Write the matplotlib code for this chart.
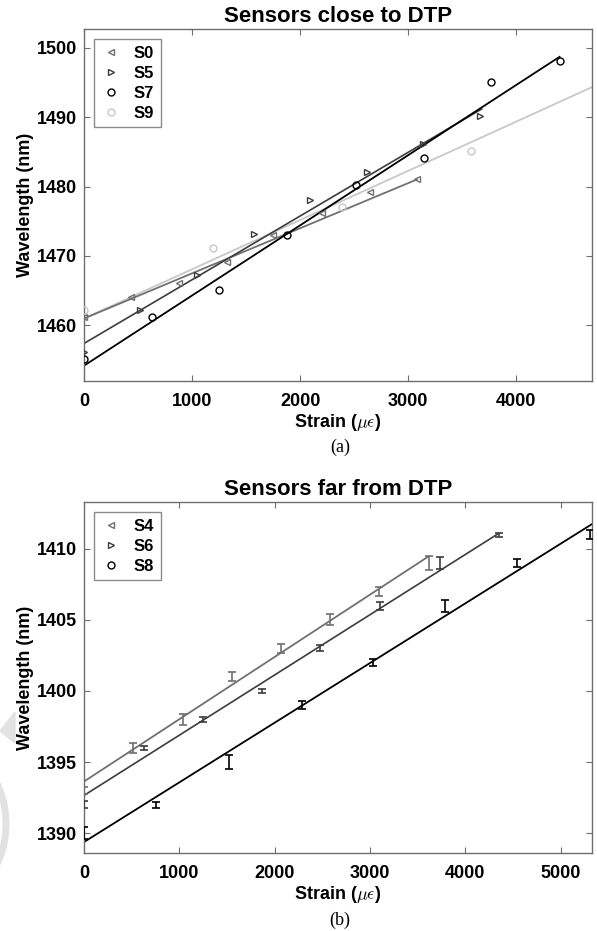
import matplotlib
matplotlib.use("Agg")
import matplotlib.pyplot as plt
from matplotlib.lines import Line2D
from matplotlib.patches import Polygon, Circle
import numpy as np

plt.rcParams['font.family'] = ['Liberation Sans', 'DejaVu Sans']
plt.rcParams['mathtext.fontset'] = 'cm'

# ---- panel (a): sensors close to DTP ----
s0_x = [0, 435, 880, 1321, 1750, 2200, 2642, 3080]
s0_y = [1461.2, 1464.1, 1466.1, 1469.1, 1473.0, 1476.2, 1479.2, 1481.1]
s5_x = [0, 518, 1043, 1574, 2093, 2617, 3136, 3660]
s5_y = [1456.2, 1462.2, 1467.2, 1473.2, 1478.1, 1482.1, 1486.2, 1490.1]
s7_x = [0, 627, 1253, 1882, 2515, 3142, 3769, 4401]
s7_y = [1455.1, 1461.2, 1465.1, 1473.05, 1480.2, 1484.1, 1495.06, 1498.1]
s9_x = [0, 1191, 2386, 3580]
s9_y = [1462.2, 1471.1, 1477.1, 1485.1]

# fitted lines: (x start, x end, intercept, slope)
fit_a = {
    'S0': (0, 3080, 1461.0, 0.00650),
    'S5': (0, 3680, 1457.4, 0.00918),
    'S7': (0, 4400, 1454.2, 0.01011),
    'S9': (0, 4700, 1461.0, 0.00709),
}

# ---- panel (b): sensors far from DTP ----
s4_x = [0, 515, 1035, 1553, 2068, 2576, 3091, 3617]
s4_y = [1393.0, 1396.0, 1398.0, 1401.0, 1403.0, 1405.0, 1407.0, 1409.0]
s4_err = [0.25, 0.35, 0.39, 0.33, 0.34, 0.39, 0.35, 0.47]
s6_x = [0, 630, 1251, 1872, 2478, 3109, 3733, 4353]
s6_y = [1392.0, 1396.0, 1398.0, 1400.0, 1403.0, 1406.0, 1409.0, 1411.0]
s6_err = [0.23, 0.16, 0.15, 0.14, 0.21, 0.29, 0.41, 0.15]
s8_x = [0, 754, 1518, 2286, 3032, 3793, 4547, 5310]
s8_y = [1390.0, 1392.0, 1395.0, 1399.0, 1402.0, 1406.0, 1409.0, 1411.0]
s8_err = [0.41, 0.2, 0.49, 0.29, 0.26, 0.41, 0.29, 0.33]

fit_b = {
    'S4': (0, 3617, 1393.63, 0.004382),
    'S6': (0, 4353, 1392.65, 0.004238),
    'S8': (0, 5330, 1389.37, 0.004198),
}

c_mid = '#707070'
c_dark = '#3c3c3c'
c_black = '#000000'
c_light = '#c8c8c8'
spine_c = '#6e6e6e'

fig = plt.figure(figsize=(5.97, 9.31), dpi=100)

# faint watermark shapes at the left edge
fig.patches.append(Polygon([[0, 0.2148], [0.025, 0.2352], [0.025, 0.2018]], closed=True,
                           transform=fig.transFigure, color='#e2e2e2', zorder=0))
fig.patches.append(Circle((-0.06, 0.115), 0.07, transform=fig.transFigure,
                          fill=False, edgecolor='#e2e2e2', linewidth=5, zorder=0))


def style_axes(ax):
    for s in ax.spines.values():
        s.set_color(spine_c)
        s.set_linewidth(1.0)
    ax.tick_params(direction='in', top=True, right=True, length=4, width=0.8,
                   color=spine_c, labelsize=13)
    ax.tick_params(axis='x', pad=9)
    ax.tick_params(axis='y', pad=5)
    for lab in ax.get_xticklabels() + ax.get_yticklabels():
        lab.set_fontweight('bold')


def fit_line(ax, f, color, lw):
    x0, x1, b, m = f
    xs = np.array([x0, x1])
    ax.plot(xs, b + m * xs, color=color, lw=lw, zorder=2)


# panel (a)
ax1 = fig.add_axes([0.1407, 0.5908, 0.8509, 0.3781])
fit_line(ax1, fit_a['S9'], c_light, 1.3)
fit_line(ax1, fit_a['S0'], c_mid, 1.3)
fit_line(ax1, fit_a['S5'], c_dark, 1.2)
fit_line(ax1, fit_a['S7'], c_black, 1.3)
mk = dict(linestyle='none', markersize=5, markerfacecolor='none', markeredgewidth=1.0, zorder=3)
ax1.plot(s0_x, s0_y, marker='<', color=c_mid, label='S0', **mk)
ax1.plot(s5_x, s5_y, marker='>', color=c_dark, label='S5', **mk)
ax1.plot(s7_x, s7_y, marker='o', color=c_black, label='S7', **mk)
ax1.plot(s9_x, s9_y, marker='o', color=c_light, label='S9', **mk)
ax1.set_xlim(0, 4700)
ax1.set_ylim(1452, 1502.7)
ax1.set_xticks([0, 1000, 2000, 3000, 4000])
ax1.set_yticks([1460, 1470, 1480, 1490, 1500])
style_axes(ax1)
ax1.set_title('Sensors close to DTP', fontsize=16, fontweight='bold', pad=5)
ax1.set_xlabel(r'Strain ($\mu\epsilon$)', fontsize=13, fontweight='bold', labelpad=1)
ax1.set_ylabel('Wavelength (nm)', fontsize=13, fontweight='bold', labelpad=2)
leg = ax1.legend(loc='upper left', prop={'weight': 'bold', 'size': 12},
                 fancybox=False, edgecolor=spine_c, handlelength=1.2, handletextpad=0.8,
                 borderaxespad=0.6, labelspacing=0.3, borderpad=0.4)
leg.get_frame().set_linewidth(1.0)

# panel (b)
ax2 = fig.add_axes([0.1407, 0.0838, 0.8509, 0.3770])
fit_line(ax2, fit_b['S4'], c_mid, 1.3)
fit_line(ax2, fit_b['S6'], c_dark, 1.2)
fit_line(ax2, fit_b['S8'], c_black, 1.3)
eb = dict(fmt='none', capsize=3.2, elinewidth=1.2, capthick=1.2, zorder=3)
ax2.errorbar(s4_x, s4_y, yerr=s4_err, ecolor=c_mid, **eb)
ax2.errorbar(s6_x, s6_y, yerr=s6_err, ecolor=c_dark, **eb)
ax2.errorbar(s8_x, s8_y, yerr=s8_err, ecolor=c_black, **eb)
ax2.set_xlim(0, 5330)
ax2.set_ylim(1388.6, 1413.3)
ax2.set_xticks([0, 1000, 2000, 3000, 4000, 5000])
ax2.set_yticks([1390, 1395, 1400, 1405, 1410])
style_axes(ax2)
ax2.set_title('Sensors far from DTP', fontsize=16, fontweight='bold', pad=5)
ax2.set_xlabel(r'Strain ($\mu\epsilon$)', fontsize=13, fontweight='bold', labelpad=1)
ax2.set_ylabel('Wavelength (nm)', fontsize=13, fontweight='bold', labelpad=2)
handles = [
    Line2D([], [], marker='<', color=c_mid, label='S4', **mk),
    Line2D([], [], marker='>', color=c_dark, label='S6', **mk),
    Line2D([], [], marker='o', color=c_black, label='S8', **mk),
]
leg2 = ax2.legend(handles=handles, loc='upper left', prop={'weight': 'bold', 'size': 12},
                  fancybox=False, edgecolor=spine_c, handlelength=1.2, handletextpad=0.8,
                  borderaxespad=0.6, labelspacing=0.3, borderpad=0.4)
leg2.get_frame().set_linewidth(1.0)

fig.text(0.5695, 1 - 447 / 931, '(a)', ha='center', va='center', fontsize=13,
         family=['Liberation Serif', 'DejaVu Serif'])
fig.text(0.5695, 1 - 920 / 931, '(b)', ha='center', va='center', fontsize=13,
         family=['Liberation Serif', 'DejaVu Serif'])

fig.savefig('out.png', dpi=100)
